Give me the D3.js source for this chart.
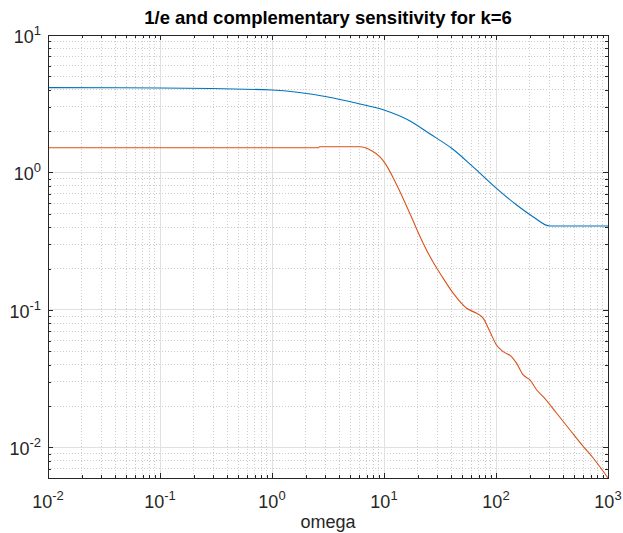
<!DOCTYPE html>
<html>
<head>
<meta charset="utf-8">
<script src="https://cdn.jsdelivr.net/npm/d3@7"></script>
<style>
  body { margin: 0; background: #fff; }
  text { font-family: "Liberation Sans", Arial, sans-serif; fill: #262626; }
</style>
</head>
<body>
<div id="chart"></div>
<script>
"use strict";

// 1/e curve (blue)
var blueOmega = [0.01, 0.1, 1, 3.16, 5.62, 10, 17.1, 25.8, 40.2, 62.4, 101, 153, 214, 303, 1000];
var blueMag   = [4.14, 4.12, 3.98, 3.54, 3.20, 2.85, 2.37, 1.905, 1.50, 1.10, 0.767, 0.580, 0.477, 0.408, 0.408];

// complementary sensitivity (orange)
var orangeOmega = [0.01, 2.6, 2.65, 6.1, 7.77, 9.2, 10.2, 13.0, 17.1, 22.3, 29.5, 31.6, 41.6, 54.7, 67.2, 77.0, 88.4,
                   101, 116, 138, 153, 175, 201, 231, 264, 348, 458, 603, 740, 1000];
var orangeMag   = [1.514, 1.514, 1.54, 1.54, 1.44, 1.30, 1.17, 0.811, 0.499, 0.307, 0.202, 0.185, 0.132, 0.1029, 0.0946, 0.087, 0.0695,
                   0.0556, 0.0498, 0.0457, 0.0409, 0.0337, 0.031, 0.0262, 0.0234, 0.01774, 0.0134, 0.01014, 0.00835, 0.0060];

var xTickVals = [0.01, 0.1, 1, 10, 100, 1000];
var xTickExp  = ["-2", "-1", "0", "1", "2", "3"];
var yTickVals = [0.01, 0.1, 1, 10];
var yTickExp  = ["-2", "-1", "0", "1"];

var titleText = "1/e and complementary sensitivity for k=6";
var xLabel = "omega";

var W = 623, H = 533;
var margin = { top: 35, right: 15, bottom: 55, left: 48 },
    width = W - margin.left - margin.right,
    height = H - margin.top - margin.bottom;

var svg = d3.select("#chart").append("svg")
  .attr("width", W).attr("height", H);

var g = svg.append("g")
  .attr("transform", "translate(" + margin.left + "," + margin.top + ")");

var x = d3.scaleLog().domain([0.01, 1000]).range([0, width]);
var y = d3.scaleLog().domain([0.0060, 10]).range([height, 0]);

// minor values per decade
function minors(lo, hi) {
  var out = [];
  for (var e = Math.floor(Math.log10(lo)); e < Math.ceil(Math.log10(hi)); e++) {
    for (var m = 2; m <= 9; m++) {
      var v = m * Math.pow(10, e);
      if (v > lo && v < hi) out.push(v);
    }
  }
  return out;
}
var xMinor = minors(0.01, 1000);
var yMinor = minors(0.0060, 10);

// minor grid
g.selectAll(".xminor").data(xMinor).enter().append("line")
  .attr("x1", function (d) { return x(d); }).attr("x2", function (d) { return x(d); })
  .attr("y1", 0).attr("y2", height)
  .attr("stroke", "#cccccc").attr("stroke-width", 1)
  .attr("stroke-dasharray", "1,2").style("shape-rendering", "crispEdges");
g.selectAll(".yminor").data(yMinor).enter().append("line")
  .attr("y1", function (d) { return y(d); }).attr("y2", function (d) { return y(d); })
  .attr("x1", 0).attr("x2", width)
  .attr("stroke", "#cccccc").attr("stroke-width", 1)
  .attr("stroke-dasharray", "1,2").style("shape-rendering", "crispEdges");

// major grid
g.selectAll(".xmajor").data(xTickVals).enter().append("line")
  .attr("x1", function (d) { return x(d); }).attr("x2", function (d) { return x(d); })
  .attr("y1", 0).attr("y2", height)
  .attr("stroke", "#e0e0e0").attr("stroke-width", 1)
  .style("shape-rendering", "crispEdges");
g.selectAll(".ymajor").data(yTickVals).enter().append("line")
  .attr("y1", function (d) { return y(d); }).attr("y2", function (d) { return y(d); })
  .attr("x1", 0).attr("x2", width)
  .attr("stroke", "#e0e0e0").attr("stroke-width", 1)
  .style("shape-rendering", "crispEdges");

// curves
var line = d3.line()
  .x(function (d) { return x(d[0]); })
  .y(function (d) { return y(d[1]); })
  .curve(d3.curveMonotoneX);

g.append("path")
  .datum(d3.zip(blueOmega, blueMag))
  .attr("fill", "none").attr("stroke", "#0072BD").attr("stroke-width", 1.1)
  .attr("d", line);
g.append("path")
  .datum(d3.zip(orangeOmega, orangeMag))
  .attr("fill", "none").attr("stroke", "#D95319").attr("stroke-width", 1.1)
  .attr("d", line);

// axes (ticks inward, box on)
function styleAxis(sel) {
  sel.select(".domain").attr("stroke", "#262626").style("shape-rendering", "crispEdges");
  sel.selectAll(".tick line").attr("stroke", "#262626").style("shape-rendering", "crispEdges");
  sel.selectAll(".tick text").remove();
}
var axes = [
  { a: d3.axisBottom(x), t: "translate(0," + height + ")", vals: xTickVals, mv: xMinor },
  { a: d3.axisTop(x),    t: "translate(0,0)",              vals: xTickVals, mv: xMinor },
  { a: d3.axisLeft(y),   t: "translate(0,0)",              vals: yTickVals, mv: yMinor },
  { a: d3.axisRight(y),  t: "translate(" + width + ",0)",  vals: yTickVals, mv: yMinor }
];
axes.forEach(function (ax) {
  ax.a.tickValues(ax.mv).tickSizeInner(-3).tickSizeOuter(0).tickFormat("");
  g.append("g").attr("transform", ax.t).call(ax.a).call(styleAxis);
  ax.a.tickValues(ax.vals).tickSizeInner(-5).tickSizeOuter(0).tickFormat("");
  g.append("g").attr("transform", ax.t).call(ax.a).call(styleAxis);
});

// tick labels 10^n
var xl = g.selectAll(".xlab").data(xTickVals).enter().append("text")
  .attr("x", function (d) { return x(d); })
  .attr("y", height + 30)
  .attr("text-anchor", "middle")
  .style("font-size", "18px");
xl.append("tspan").text("10");
xl.append("tspan").attr("dy", -8).style("font-size", "13px")
  .text(function (d, i) { return xTickExp[i]; });

var yl = g.selectAll(".ylab").data(yTickVals).enter().append("text")
  .attr("x", -7)
  .attr("y", function (d) { return y(d) + 8; })
  .attr("text-anchor", "end")
  .style("font-size", "18px");
yl.append("tspan").text("10");
yl.append("tspan").attr("dy", -8).style("font-size", "13px")
  .text(function (d, i) { return yTickExp[i]; });

// title and label
svg.append("text")
  .attr("x", margin.left + width / 2).attr("y", 24)
  .attr("text-anchor", "middle")
  .style("font-size", "18.5px").style("font-weight", "bold")
  .style("fill", "#000")
  .text(titleText);
svg.append("text")
  .attr("x", margin.left + width / 2).attr("y", 528)
  .attr("text-anchor", "middle")
  .style("font-size", "18px")
  .text(xLabel);
</script>
</body>
</html>
